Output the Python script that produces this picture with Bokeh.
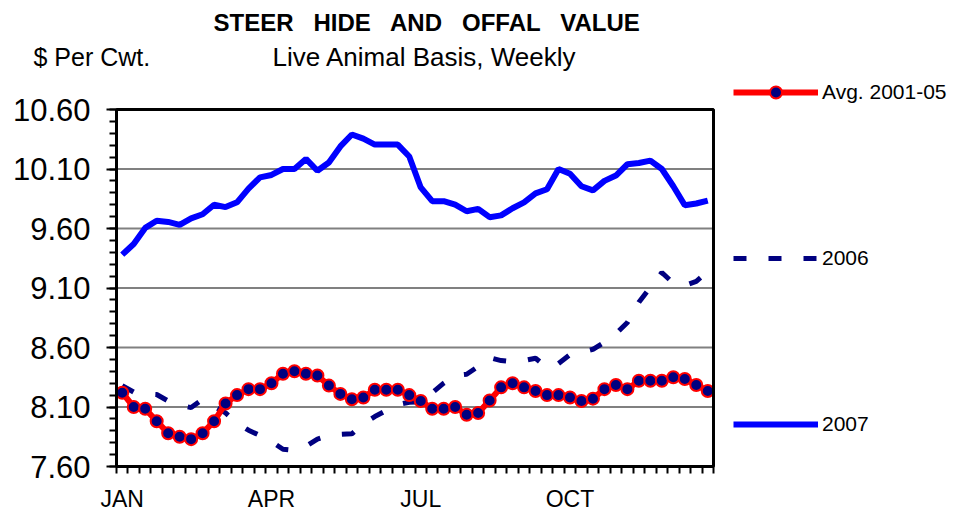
import numpy as np
from bokeh.plotting import figure
from bokeh.models import (Range1d, FixedTicker, PrintfTickFormatter, Label,
                          Legend, LegendItem, BoxAnnotation)
from bokeh.embed import file_html
from bokeh.resources import INLINE

# ---- data (weekly values, 52 weeks) ----
month_labels = ["JAN", "APR", "JUL", "OCT"]
month_weeks = [0, 13, 26, 39]

avg_2001_05 = [8.22, 8.10, 8.085, 7.98, 7.88, 7.85, 7.83, 7.88, 7.98, 8.13,
               8.20, 8.25, 8.25, 8.30, 8.38, 8.40, 8.38, 8.365, 8.28, 8.21,
               8.165, 8.18, 8.245, 8.245, 8.245, 8.20, 8.15, 8.085, 8.085, 8.10,
               8.035, 8.05, 8.155, 8.265, 8.30, 8.265, 8.235, 8.20, 8.20, 8.18,
               8.15, 8.17, 8.25, 8.285, 8.25, 8.32, 8.32, 8.32, 8.35, 8.335,
               8.285, 8.235]

y2006 = [8.28, 8.225, 8.21, 8.205, 8.15, 8.115, 8.095, 8.165, 8.105, 8.05,
         7.965, 7.905, 7.86, 7.81, 7.745, 7.735, 7.77, 7.83, 7.86, 7.87,
         7.875, 7.96, 8.02, 8.07, 8.12, 8.14, 8.145, 8.22, 8.30, 8.365,
         8.375, 8.44, 8.515, 8.49, 8.48, 8.49, 8.51, 8.43, 8.465, 8.54,
         8.56, 8.585, 8.645, 8.715, 8.81, 8.98, 9.105, 9.23, 9.14, 9.12,
         9.155, 9.24]

y2007 = [9.38, 9.47, 9.605, 9.665, 9.655, 9.63, 9.685, 9.72, 9.80, 9.78,
         9.82, 9.935, 10.03, 10.05, 10.10, 10.10, 10.185, 10.085, 10.155, 10.29,
         10.39, 10.355, 10.305, 10.305, 10.305, 10.205, 9.945, 9.83, 9.83, 9.80,
         9.745, 9.765, 9.695, 9.71, 9.77, 9.82, 9.895, 9.93, 10.10, 10.06,
         9.955, 9.92, 10.0, 10.045, 10.14, 10.15, 10.17, 10.10, 9.955, 9.795,
         9.81, 9.835]

y_ticks = [7.6, 8.1, 8.6, 9.1, 9.6, 10.1, 10.6]

n_weeks = len(avg_2001_05)
weeks = np.arange(n_weeks) + 0.5  # bin centres
y_min, y_max = y_ticks[0], y_ticks[-1]

FONT = "Liberation Sans"
NB = "\u00a0"

# ---- layout: canvas size and where the plot box sits on it (pixels) ----
W, H = 955, 513
BOX_L, BOX_R, BOX_T, BOX_B = 116, 713, 109, 466
ppw = (BOX_R - BOX_L) / n_weeks
ppu = (BOX_B - BOX_T) / (y_max - y_min)
x_range = Range1d(-BOX_L / ppw, n_weeks + (W - BOX_R) / ppw)
y_range = Range1d(y_min - (H - BOX_B) / ppu, y_max + BOX_T / ppu)

p = figure(width=W, height=H, output_backend="svg", toolbar_location=None,
           x_range=x_range, y_range=y_range,
           min_border=0, min_border_left=0, min_border_right=0,
           min_border_top=0, min_border_bottom=0)
p.title.visible = False
p.background_fill_color = "white"
p.border_fill_color = "white"
p.outline_line_color = None
p.xgrid.visible = False
p.ygrid.visible = False

# horizontal grid lines, limited to the plot box
p.segment(x0=[0] * len(y_ticks), x1=[n_weeks] * len(y_ticks), y0=y_ticks, y1=y_ticks,
          line_color="#808080", line_width=2, level="underlay")

# y axis (fixed at the left edge of the plot box)
yax = p.yaxis[0]
yax.fixed_location = 0
yax.bounds = (y_min, y_max)
yax.ticker = FixedTicker(ticks=y_ticks,
                         minor_ticks=list(np.round(np.arange(y_min, y_max + 0.05, 0.1), 2)))
yax.formatter = PrintfTickFormatter(format="%.2f")
yax.axis_line_width = 3
yax.major_tick_in = 0
yax.minor_tick_in = 0
yax.major_tick_out = 10
yax.minor_tick_out = 7
yax.major_tick_line_width = 2
yax.minor_tick_line_width = 2
yax.major_label_text_font = FONT
yax.major_label_text_font_size = "31px"
yax.major_label_text_color = "black"
yax.major_label_standoff = 16

# x axis (fixed at the bottom edge of the plot box)
xax = p.xaxis[0]
xax.fixed_location = y_min
xax.bounds = (0, n_weeks)
xticks = [w + 0.5 for w in month_weeks]
xax.ticker = FixedTicker(ticks=xticks, minor_ticks=list(range(n_weeks + 1)))
xax.major_label_overrides = {t: lab for t, lab in zip(xticks, month_labels)}
xax.axis_line_width = 3
xax.major_tick_in = 0
xax.minor_tick_in = 0
xax.major_tick_out = 7
xax.major_tick_line_color = None
xax.minor_tick_out = 7
xax.minor_tick_line_width = 2
xax.major_label_text_font = FONT
xax.major_label_text_font_size = "23px"
xax.major_label_text_color = "black"
xax.major_label_standoff = 12

# plot box border
p.add_layout(BoxAnnotation(left=0, right=n_weeks, bottom=y_min, top=y_max,
                           fill_color=None, fill_alpha=0,
                           line_color="black", line_alpha=1.0, line_width=3,
                           line_dash="solid"))

# series
r2006 = p.line(weeks, y2006, line_color="#000080", line_width=5, line_dash="13 22")
r2007 = p.line(weeks, y2007, line_color="#0000FF", line_width=6)
ravg = p.line(weeks, avg_2001_05, line_color="#FF0000", line_width=6)
ravg_m = p.scatter(weeks, avg_2001_05, marker="circle", size=12,
                   fill_color="#000080", line_color="#FF0000", line_width=2)

legend = Legend(items=[
    LegendItem(label="Avg. 2001-05", renderers=[ravg, ravg_m]),
    LegendItem(label="2006", renderers=[r2006]),
    LegendItem(label="2007", renderers=[r2007]),
], location=(733, 74))
legend.margin = 0
legend.glyph_width = 85
legend.glyph_height = 30
legend.label_height = 30
legend.spacing = 136
legend.padding = 10
legend.label_standoff = 4
legend.border_line_color = None
legend.background_fill_alpha = 0
legend.label_text_font = FONT
legend.label_text_font_size = "21px"
legend.label_text_color = "black"
p.add_layout(legend, "center")

# titles (screen units: x from the left, y up from the bottom of the canvas)
p.add_layout(Label(x=213, y=H - 22, x_units="screen", y_units="screen",
                   text="STEER " + NB + " HIDE " + NB + " AND " + NB + " OFFAL " + NB + " VALUE",
                   text_align="left", text_baseline="alphabetic",
                   text_font=FONT, text_font_style="bold", text_font_size="24px",
                   text_color="black"))
p.add_layout(Label(x=33, y=H - 56, x_units="screen", y_units="screen",
                   text="$ Per Cwt.", text_align="left", text_baseline="alphabetic",
                   text_font=FONT, text_font_size="25px", text_color="black"))
p.add_layout(Label(x=272, y=H - 56, x_units="screen", y_units="screen",
                   text="Live Animal Basis, Weekly", text_align="left",
                   text_baseline="alphabetic",
                   text_font=FONT, text_font_size="26px", text_color="black"))

open("out.html", "w").write(file_html(p, INLINE))
